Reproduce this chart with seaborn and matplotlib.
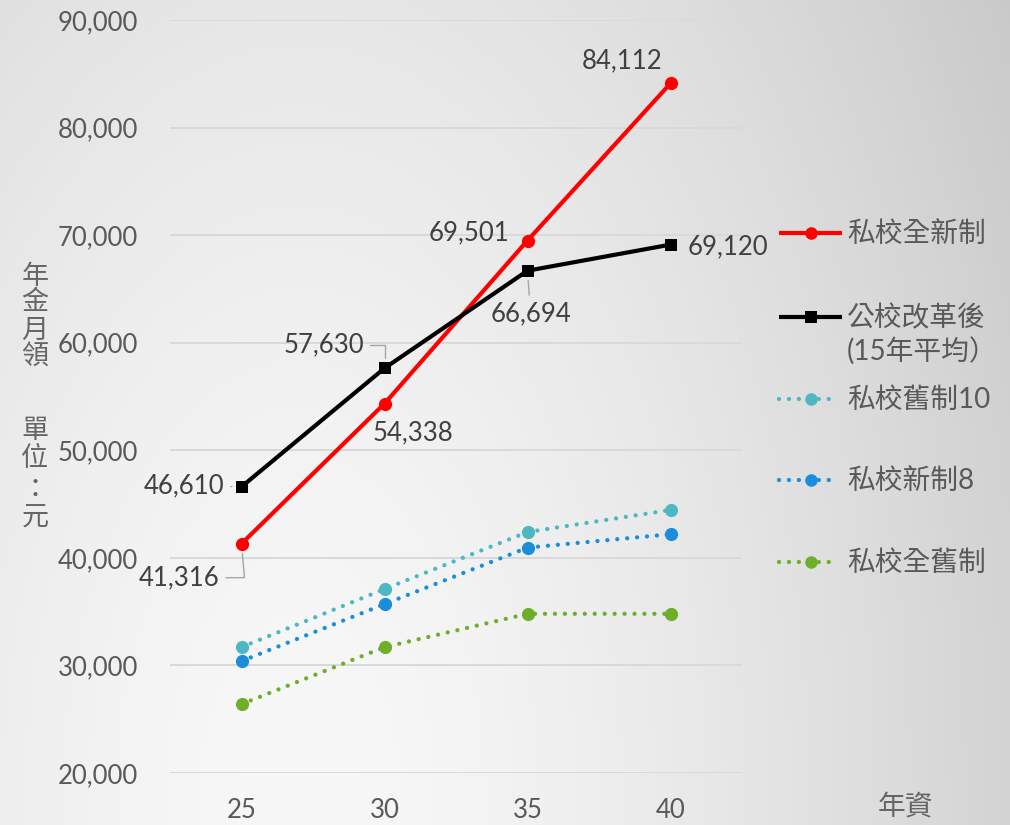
import numpy as np
import pandas as pd
import matplotlib
matplotlib.use("Agg")
import matplotlib.pyplot as plt
import seaborn as sns
from matplotlib.lines import Line2D

# ---- data -------------------------------------------------------------
years = [25, 30, 35, 40]
series_names = ["私校全新制", "公校改革後", "私校舊制10", "私校新制8", "私校全舊制"]
private_all_new = [41316, 54338, 69501, 84112]
public_reform = [46610, 57630, 66694, 69120]
private_old10 = [31700, 37100, 42400, 44450]
private_new8 = [30400, 35700, 40950, 42200]
private_all_old = [26400, 31700, 34800, 34800]
legend_labels = ["私校全新制", "公校改革後\n(15年平均）", "私校舊制10", "私校新制8", "私校全舊制"]
y_ticks = [20000, 30000, 40000, 50000, 60000, 70000, 80000, 90000]
y_title_top = "年金月領"
y_title_bottom = "單位：元"
x_title = "年資"

values = [private_all_new, public_reform, private_old10, private_new8, private_all_old]
df = pd.DataFrame(
    [(name, yr, v) for name, vals in zip(series_names, values) for yr, v in zip(years, vals)],
    columns=["series", "year", "value"],
)

# ---- styles -----------------------------------------------------------
W, H, DPI = 1010, 825, 100
DOT = (0, (0.01, 2.3))
styles = {
    "私校全新制": dict(color="#ff0000", marker="o", ms=9.5, lw=3.0, ls="-"),
    "公校改革後": dict(color="#000000", marker="s", ms=8.5, lw=3.0, ls="-"),
    "私校舊制10": dict(color="#4db8c4", marker="o", ms=9.5, lw=3.1, ls=DOT),
    "私校新制8": dict(color="#1a8edb", marker="o", ms=9.5, lw=3.1, ls=DOT),
    "私校全舊制": dict(color="#6fae2a", marker="o", ms=9.5, lw=3.1, ls=DOT),
}
TEXT = "#595959"
LABEL = "#404040"
NUM_FONT = ["Lato", "Noto Sans CJK TC", "DejaVu Sans"]
CJK_FONT = ["Noto Sans CJK TC", "DejaVu Sans"]

sns.set_theme(style="white")
plt.rcParams["font.family"] = NUM_FONT

fig = plt.figure(figsize=(W / DPI, H / DPI), dpi=DPI)

# soft grey background, lightest toward the lower left
bg = fig.add_axes([0, 0, 1, 1], zorder=-10)
yy, xx = np.mgrid[0:H, 0:W]
d = np.sqrt(((xx - 300) / 700.0) ** 2 + ((yy - 800) / 1300.0) ** 2)
shade = np.clip(248 - 36 * d ** 1.5, 195, 250) / 255.0
bg.imshow(np.dstack([shade, shade, shade]), aspect="auto", extent=(0, 1, 0, 1), origin="upper")
bg.set_axis_off()

ax = fig.add_axes([170 / W, 52 / H, 572 / W, 753 / H])
ax.set_facecolor("none")

for name in series_names:
    st = styles[name]
    sns.lineplot(
        data=df[df["series"] == name], x="year", y="value", ax=ax,
        color=st["color"], marker=st["marker"], markersize=st["ms"],
        markeredgewidth=0, markeredgecolor=st["color"],
        linewidth=st["lw"], linestyle=st["ls"], dash_capstyle="round",
        legend=False, zorder=3,
    )

ax.set_xlim(22.5, 42.5)
ax.set_ylim(20000, 90000)
ax.set_xticks(years)
ax.set_yticks(y_ticks)
ax.set_yticklabels([f"{v:,}" for v in y_ticks])
ax.set_xlabel("")
ax.set_ylabel("")
for s in ax.spines.values():
    s.set_visible(False)
ax.grid(False)
ax.yaxis.grid(True, color="#d9d9d9", linewidth=1.4)
ax.set_axisbelow(True)
ax.tick_params(axis="both", length=0, labelsize=18.5, labelcolor=TEXT)
ax.tick_params(axis="y", pad=23)
ax.tick_params(axis="x", pad=18)

# ---- value labels -----------------------------------------------------
lead = dict(arrowstyle="-", color="#a6a6a6", lw=1.0)
label_specs = [
    ("私校全新制", 0, (-62, -34), "angle,angleA=0,angleB=95", 7),
    ("私校全新制", 1, (28, -29), None, 0),
    ("私校全新制", 2, (-58, 8), None, 0),
    ("私校全新制", 3, (-48, 23), None, 0),
    ("公校改革後", 0, (-57, 1), "arc3", 7),
    ("公校改革後", 1, (-61, 23), "angle,angleA=0,angleB=90", 7),
    ("公校改革後", 2, (3, -43), "arc3", 7),
    ("公校改革後", 3, (57, -2), None, 0),
]
for name, i, off, conn, shrink in label_specs:
    v = values[series_names.index(name)][i]
    kw = {}
    if conn is not None:
        kw["arrowprops"] = dict(lead, connectionstyle=conn, shrinkA=2, shrinkB=shrink)
    ax.annotate(f"{v:,}", xy=(years[i], v), xytext=off, textcoords="offset pixels",
                ha="center", va="center", fontsize=18.5, color=LABEL, zorder=5, **kw)

# ---- legend -----------------------------------------------------------
legend_rows = [233, 317, 399, 480, 562]
for name, label, y in zip(series_names, legend_labels, legend_rows):
    st = styles[name]
    fy = 1 - y / H
    x1 = 842 if st["ls"] == "-" else 835
    fig.add_artist(Line2D([779 / W, 811 / W, x1 / W], [fy, fy, fy], transform=fig.transFigure,
                          color=st["color"], lw=st["lw"], ls=st["ls"], marker=st["marker"],
                          ms=st["ms"] * 0.95, markevery=[1], markeredgewidth=0,
                          dash_capstyle="round", solid_capstyle="butt"))
    for k, line in enumerate(label.split("\n")):
        fig.text(847 / W, 1 - (y + 1 + 34 * k) / H, line, ha="left", va="center",
                 fontsize=20, color=TEXT, family=NUM_FONT)

# ---- axis titles ------------------------------------------------------
for ch, y in zip(y_title_top, [276, 303, 330, 357]):
    fig.text(35 / W, 1 - y / H, ch, ha="center", va="center", fontsize=19.5,
             color="#666666", family=CJK_FONT, fontweight="light")
for ch, y in zip(y_title_bottom, [431, 458, 490, 518]):
    fig.text(35 / W, 1 - y / H, ch, ha="center", va="center", fontsize=19.5,
             color="#666666", family=CJK_FONT, fontweight="light")
fig.text(905 / W, 1 - 807 / H, x_title, ha="center", va="center", fontsize=20,
         color="#666666", family=CJK_FONT, fontweight="light")

fig.savefig("out.png", dpi=DPI)
